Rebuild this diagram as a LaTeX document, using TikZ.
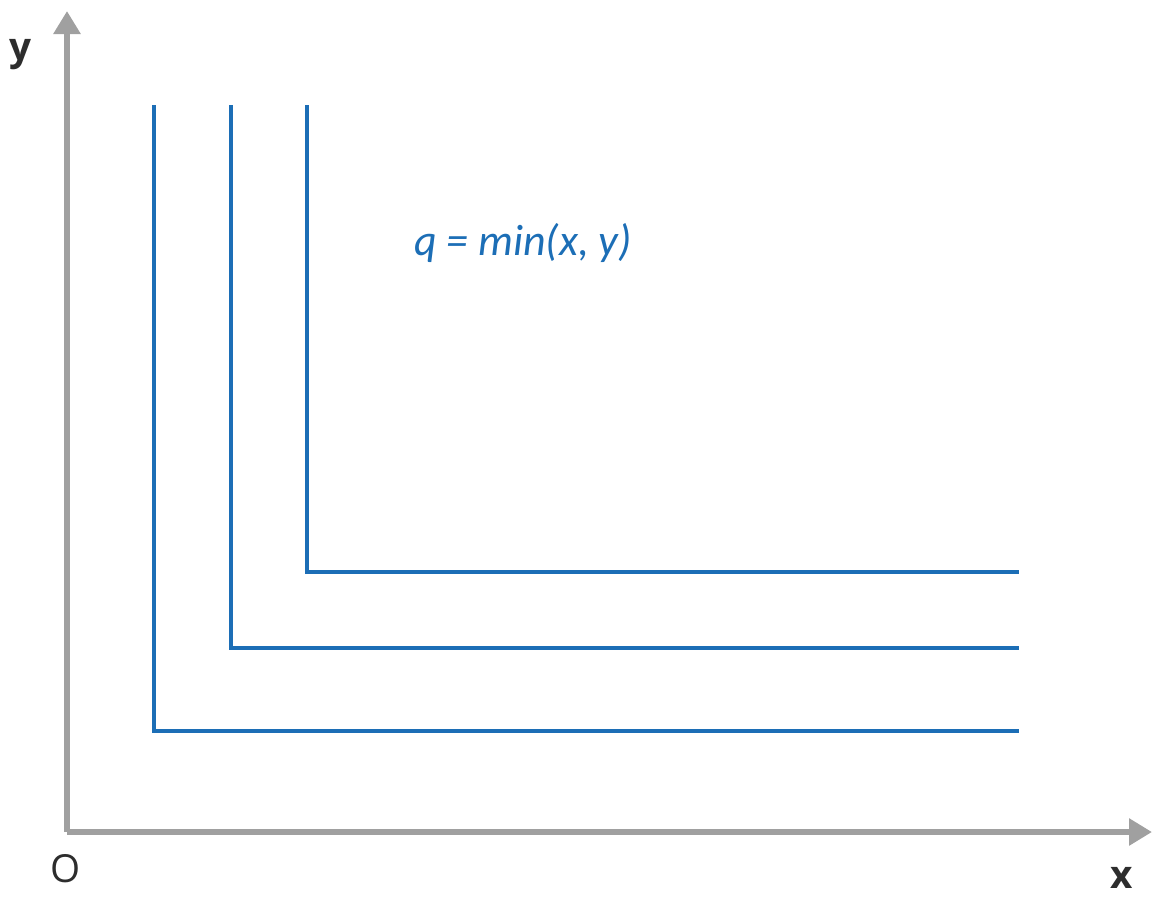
\documentclass[tikz,border=0pt]{standalone}
\usepackage{fontspec}
\setmainfont{Open Sans}
\newfontfamily\formfont{Carlito}
\usetikzlibrary{arrows.meta, positioning}
\definecolor{axisgray}{RGB}{160, 160, 160}
\definecolor{curveblue}{RGB}{28, 110, 182}
\definecolor{labelink}{RGB}{45, 45, 45}
\tikzset{
    axis/.style  ={draw=axisgray, line width=3.3pt,
                   -{Triangle[length=0.46cm, width=0.52cm]}},
    curve/.style ={draw=curveblue, line width=2.2pt},
    axlbl/.style ={text=labelink, font=\bfseries\fontsize{22}{26}\selectfont, inner sep=0pt},
    orig/.style  ={text=labelink, font=\fontsize{22}{26}\selectfont, inner sep=0pt},
    formula/.style={text=curveblue, font=\formfont\itshape\fontsize{25}{28}\selectfont, inner sep=0pt}
}
\begin{document}
\begin{tikzpicture}[x=0.02cm, y=-0.02cm]
  \useasboundingbox (0,0) rectangle (1153,897);

  % axes
  \coordinate (o)  at (67, 832);
  \coordinate (yt) at (67, 11);
  \coordinate (xt) at (1152, 832);
  \draw[axis] (o) -- (yt);
  \draw[axis] (o) -- (xt);
  \node[axlbl] (ylbl) at (20, 55) {y};
  \node[axlbl] (xlbl) at (1122, 878) {x};
  \node[orig]  (olbl) at (66, 869) {O};

  % indifference curves
  \coordinate (c1) at (154, 731);
  \coordinate (c2) at (231, 648);
  \coordinate (c3) at (307, 572);
  \draw[curve] (154, 105) -- (c1) -- (1019, 731);
  \draw[curve] (231, 105) -- (c2) -- (1019, 648);
  \draw[curve] (307, 105) -- (c3) -- (1019, 572);

  \node[formula] (q) at (523, 243) {q = min(x, y)};
\end{tikzpicture}
\end{document}
